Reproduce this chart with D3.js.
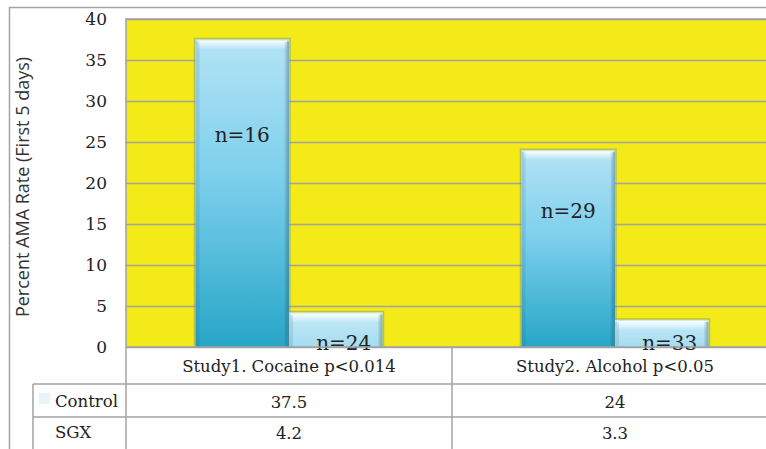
<!DOCTYPE html>
<html>
<head>
<meta charset="utf-8">
<script src="https://cdn.jsdelivr.net/npm/d3@7"></script>
<style>
  html, body { margin: 0; padding: 0; background: #fff; }
  svg { display: block; }
  .serif { font-family: "DejaVu Serif", serif; fill: #222; }
</style>
</head>
<body>
<svg id="chart" width="766" height="449"></svg>
<script>
// Chart data
const studies = ["Study1. Cocaine p<0.014", "Study2. Alcohol p<0.05"];
const seriesNames = ["Control", "SGX"];
const controlValues = [37.5, 24];
const sgxValues = [4.2, 3.3];
const controlN = ["n=16", "n=29"];
const sgxN = ["n=24", "n=33"];
const yTicks = [0, 5, 10, 15, 20, 25, 30, 35, 40];

const svg = d3.select("#chart");
const margin = { left: 126, top: 19, right: -12, bottom: 102 };
const W = 766, H = 449;
const plotL = margin.left, plotT = margin.top;
const plotR = W - margin.right, plotB = H - margin.bottom;
const grid = "#a3a3a3";

// Gradients and bevel highlight
const defs = svg.append("defs");
const gC = defs.append("linearGradient").attr("id", "gControl").attr("x1", 0).attr("y1", 0).attr("x2", 0).attr("y2", 1);
gC.append("stop").attr("offset", "0%").attr("stop-color", "#b4e3f5");
gC.append("stop").attr("offset", "45%").attr("stop-color", "#7ccfec");
gC.append("stop").attr("offset", "100%").attr("stop-color", "#27a6c7");
const gS = defs.append("linearGradient").attr("id", "gSgx").attr("x1", 0).attr("y1", 0).attr("x2", 0).attr("y2", 1);
gS.append("stop").attr("offset", "0%").attr("stop-color", "#c6ebf8");
gS.append("stop").attr("offset", "100%").attr("stop-color", "#a4dcf0");
const gTop = defs.append("linearGradient").attr("id", "gTop").attr("x1", 0).attr("y1", 0).attr("x2", 0).attr("y2", 1);
gTop.append("stop").attr("offset", "0%").attr("stop-color", "#ffffff").attr("stop-opacity", 0.95);
gTop.append("stop").attr("offset", "100%").attr("stop-color", "#ffffff").attr("stop-opacity", 0);
const gL = defs.append("linearGradient").attr("id", "gSide").attr("x1", 0).attr("y1", 0).attr("x2", 1).attr("y2", 0);
gL.append("stop").attr("offset", "0%").attr("stop-color", "#000").attr("stop-opacity", 0.0);
gL.append("stop").attr("offset", "100%").attr("stop-color", "#1a4a60").attr("stop-opacity", 0.35);

// Outer frame
svg.append("path").attr("d", `M9.5,${H} V7.5 H${W}`).attr("fill", "none").attr("stroke", grid).attr("stroke-width", 1.5);

// Scales
const x0 = d3.scaleBand().domain(studies).range([plotL, plotR]).padding(0);
const x1 = d3.scaleBand().domain(seriesNames).range([0, x0.bandwidth()]).paddingInner(0).paddingOuter(0.743);
const y = d3.scaleLinear().domain([0, 40]).range([plotB, plotT]);

// Plot background
svg.append("rect").attr("x", plotL).attr("y", plotT).attr("width", plotR - plotL).attr("height", plotB - plotT)
  .attr("fill", "#f3ea17");

// Gridlines and tick labels
const yAxis = svg.append("g").attr("transform", `translate(${plotL},0)`)
  .call(d3.axisLeft(y).tickValues(yTicks).tickSizeInner(-(plotR - plotL)).tickSizeOuter(0).tickPadding(19));
yAxis.select(".domain").remove();
yAxis.selectAll(".tick line").attr("stroke", grid).attr("stroke-width", 1.6);
yAxis.selectAll(".tick text").attr("class", "serif").attr("font-size", 17).attr("fill", "#222");

// Plot border left / top
svg.append("path").attr("d", `M${plotL},${plotB} V${plotT} H${W}`).attr("fill", "none").attr("stroke", grid).attr("stroke-width", 1.6);

// Bars
const rows = studies.map((s, i) => ({ study: s, values: [
  { series: "Control", v: controlValues[i], n: controlN[i] },
  { series: "SGX", v: sgxValues[i], n: sgxN[i] }
]}));

const groups = svg.append("g").selectAll("g").data(rows).join("g")
  .attr("transform", d => `translate(${x0(d.study)},0)`);

const bar = groups.selectAll("g.bar").data(d => d.values).join("g").attr("class", "bar");
bar.each(function(d) {
  const g = d3.select(this);
  const bx = x1(d.series), bw = x1.bandwidth();
  const by = y(d.v), bh = y(0) - y(d.v);
  // soft shadow
  g.append("rect").attr("x", bx - 1).attr("y", by - 1).attr("width", bw + 2).attr("height", bh + 1)
    .attr("fill", "none").attr("stroke", "#6f8f9a").attr("stroke-opacity", 0.45).attr("stroke-width", 1.5);
  g.append("rect").attr("x", bx).attr("y", by).attr("width", bw).attr("height", bh)
    .attr("fill", d.series === "Control" ? "url(#gControl)" : "url(#gSgx)");
  // bevel: top highlight, darker sides
  g.append("rect").attr("x", bx + 2).attr("y", by + 1).attr("width", bw - 4).attr("height", Math.min(9, bh - 2))
    .attr("fill", "url(#gTop)");
  g.append("rect").attr("x", bx + bw - 5).attr("y", by + 2).attr("width", 5).attr("height", bh - 2)
    .attr("fill", "url(#gSide)");
  g.append("rect").attr("x", bx).attr("y", by + 2).attr("width", 4).attr("height", bh - 2)
    .attr("fill", "#1a4a60").attr("fill-opacity", 0.12);
});

// n labels
bar.append("text").attr("class", "serif").attr("font-size", 20).attr("text-anchor", "middle")
  .attr("x", d => x1(d.series) + x1.bandwidth() / 2 + (d.series === "SGX" ? 8 : 0))
  .attr("y", d => d.series === "Control"
    ? y(d.v) + (y(0) - y(d.v)) * 0.31 + 7
    : y(0) + 3)
  .text(d => d.n);

// Data table
const tableTop = plotB, row1 = 384, row2 = 417;
const lines = svg.append("g").attr("fill", "none").attr("stroke", grid).attr("stroke-width", 1.5);
lines.append("path").attr("d", `M${plotL},${tableTop} H${W}`);
lines.append("path").attr("d", `M33,${row1} H${W}`);
lines.append("path").attr("d", `M33,${row2} H${W}`);
lines.append("path").attr("d", `M33,${row1} V${H}`);
lines.append("path").attr("d", `M${plotL},${tableTop} V${H}`);
lines.append("path").attr("d", `M${x0(studies[1])},${tableTop} V${H}`);

svg.append("g").selectAll("text").data(studies).join("text")
  .attr("class", "serif").attr("font-size", 16.5).attr("text-anchor", "middle")
  .attr("x", d => x0(d) + x0.bandwidth() / 2).attr("y", 372).text(d => d);

svg.append("g").selectAll("text").data(controlValues).join("text")
  .attr("class", "serif").attr("font-size", 16.5).attr("text-anchor", "middle")
  .attr("x", (d, i) => x0(studies[i]) + x0.bandwidth() / 2).attr("y", 408).text(d => d);

svg.append("g").selectAll("text").data(sgxValues).join("text")
  .attr("class", "serif").attr("font-size", 16.5).attr("text-anchor", "middle")
  .attr("x", (d, i) => x0(studies[i]) + x0.bandwidth() / 2).attr("y", 439).text(d => d);

// Row headers with legend key
svg.append("rect").attr("x", 39).attr("y", 393).attr("width", 11).attr("height", 11).attr("fill", "#e8f4fa");
svg.append("text").attr("class", "serif").attr("font-size", 16.5).attr("x", 55).attr("y", 407).text(seriesNames[0]);
svg.append("text").attr("class", "serif").attr("font-size", 16.5).attr("x", 55).attr("y", 438).text(seriesNames[1]);

// Y axis title
svg.append("text").attr("transform", "translate(29,187) rotate(-90)")
  .attr("text-anchor", "middle").attr("font-family", "'Open Sans', sans-serif").attr("font-size", 18)
  .attr("fill", "#333").text("Percent AMA Rate (First 5 days)");
</script>
</body>
</html>
